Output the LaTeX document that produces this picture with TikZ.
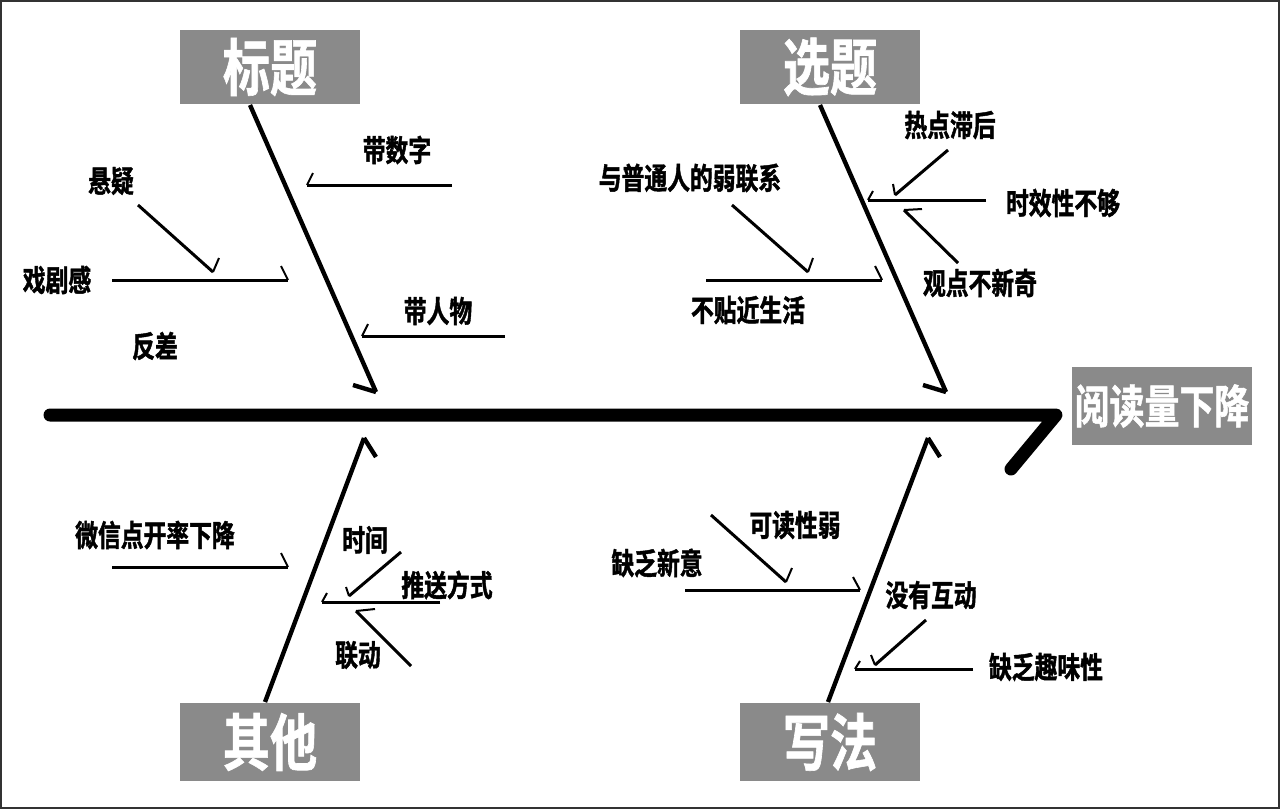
\documentclass[tikz,border=0pt]{standalone}
\usepackage{fontspec}
\newfontfamily\cjkb[FakeStretch=0.76,FakeBold=1.4]{Noto Sans CJK SC Bold}
\newfontfamily\cjkt[FakeStretch=0.76,FakeBold=1]{Noto Sans CJK SC Bold}
\definecolor{boxgray}{HTML}{8A8A8A}
\begin{document}
\begin{tikzpicture}[x=0.5pt,y=-0.5pt,
  box/.style={fill=boxgray,text=white,minimum width=90pt,minimum height=37pt,inner sep=0pt,font=\cjkt\fontsize{31}{31}\selectfont},
  lbl/.style={inner sep=0pt,font=\cjkb\fontsize{15}{15}\selectfont},
  spine/.style={line width=6.5pt,line cap=round,line join=round},
  bone/.style={line width=2.2pt},
  sub/.style={line width=1.5pt},
  barb/.style={line width=1pt}]
\useasboundingbox (0,0) rectangle (1280,809);
\draw[line width=1.2pt,black!80] (1,1) rectangle (1279,808);

% boxes
\node[box] (bt) at (270,67) {标题};
\node[box] (xt) at (830,67) {选题};
\node[box,minimum height=39pt] (qt) at (270,742) {其他};
\node[box,minimum height=39pt] (xf) at (830,742) {写法};
\node[box,minimum height=39pt,font=\cjkt\fontsize{23}{23}\selectfont] (yd) at (1162,406) {阅读量下降};

% spine
\coordinate (s0) at (50,415);
\coordinate (s1) at (1056,415);
\coordinate (s2) at (1011,469);
\draw[spine] (s0) -- (s1) -- (s2);

% main bones
\coordinate (bt0) at (250,105); \coordinate (bt1) at (376,392); \coordinate (bt2) at (353,385);
\draw[bone] (bt0) -- (bt1); \draw[bone] (bt1) -- (bt2);
\coordinate (xt0) at (820,105); \coordinate (xt1) at (946,392); \coordinate (xt2) at (923,385);
\draw[bone] (xt0) -- (xt1); \draw[bone] (xt1) -- (xt2);
\coordinate (qt0) at (265,702); \coordinate (qt1) at (364,438); \coordinate (qt2) at (376,457);
\draw[bone] (qt0) -- (qt1); \draw[bone] (qt1) -- (qt2);
\coordinate (xf0) at (828,702); \coordinate (xf1) at (928,438); \coordinate (xf2) at (940,457);
\draw[bone] (xf0) -- (xf1); \draw[bone] (xf1) -- (xf2);

% labels
\node[lbl] (l1) at (397,150) {带数字};
\node[lbl] (l2) at (438,311) {带人物};
\node[lbl] (l3) at (111,181) {悬疑};
\node[lbl] (l4) at (57,280) {戏剧感};
\node[lbl] (l5) at (155,346) {反差};
\node[lbl] (l6) at (950,125) {热点滞后};
\node[lbl] (l7) at (690,178) {与普通人的弱联系};
\node[lbl] (l8) at (1063,203) {时效性不够};
\node[lbl] (l9) at (980,283) {观点不新奇};
\node[lbl] (l10) at (748,310) {不贴近生活};
\node[lbl] (l11) at (155,535) {微信点开率下降};
\node[lbl] (l12) at (365,540) {时间};
\node[lbl] (l13) at (447,585) {推送方式};
\node[lbl] (l14) at (358,655) {联动};
\node[lbl] (l15) at (795,525) {可读性弱};
\node[lbl] (l16) at (657,563) {缺乏新意};
\node[lbl] (l17) at (931,595) {没有互动};
\node[lbl] (l18) at (1046,667) {缺乏趣味性};

% sub bones: start, tip, barb end
\newcommand\subarrow[7]{%
  \coordinate (#1a) at (#2,#3); \coordinate (#1b) at (#4,#5); \coordinate (#1c) at (#6,#7);
  \draw[sub] (#1a) -- (#1b); \draw[barb] (#1b) -- (#1c);}
% 标题
\subarrow{a1}{452}{185}{307}{185}{313}{173}
\subarrow{a2}{505}{336}{362}{336}{368}{324}
\subarrow{a3}{112}{280}{288}{280}{281}{266}
\subarrow{a4}{138}{205}{213}{272}{219}{258}
% 选题
\subarrow{b1}{986}{200}{868}{200}{873}{191}
\subarrow{b2}{948}{150}{895}{195}{893}{184}
\subarrow{b3}{958}{263}{904}{210}{922}{209}
\subarrow{b4}{706}{280}{882}{280}{875}{266}
\subarrow{b5}{732}{205}{808}{272}{813}{258}
% 其他
\subarrow{c1}{112}{567}{288}{567}{281}{553}
\subarrow{c2}{440}{602}{322}{602}{327}{593}
\subarrow{c3}{401}{552}{349}{596}{346}{587}
\subarrow{c4}{411}{666}{356}{611}{375}{609}
% 写法
\subarrow{d1}{685}{590}{860}{590}{853}{577}
\subarrow{d2}{711}{515}{786}{582}{792}{568}
\subarrow{d3}{973}{669}{855}{669}{860}{661}
\subarrow{d4}{926}{620}{875}{665}{871}{655}
\end{tikzpicture}
\end{document}
